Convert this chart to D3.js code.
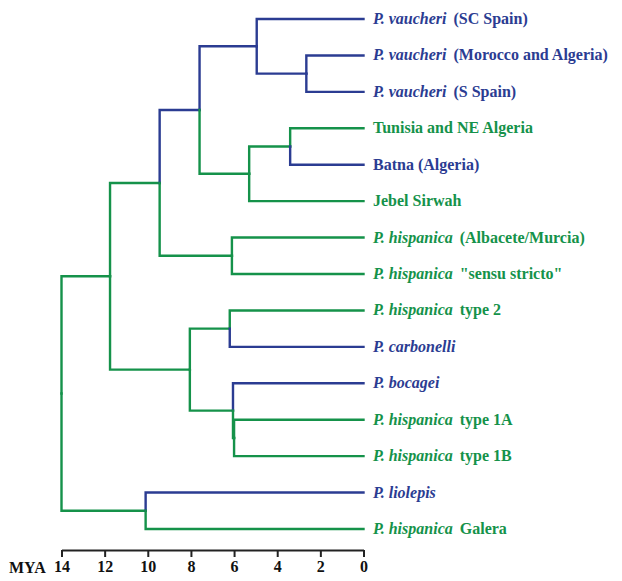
<!DOCTYPE html>
<html lang="en">
<head>
<meta charset="utf-8">
<title>phylogeny</title>
<script src="https://d3js.org/d3.v7.min.js"></script>
<style>
  body { margin: 0; background: #fff; }
  .lab { font-family: "Liberation Serif", "Times New Roman", serif; font-size: 16px; font-weight: bold; }
  .axis text { font-family: "Liberation Serif", "Times New Roman", serif; font-size: 16px; font-weight: bold; fill: #111; }
</style>
</head>
<body>
<div id="chart"></div>
<script>
var width = 622, height = 581;

// leaves, top to bottom
var leafItalic = ["P. vaucheri", "P. vaucheri", "P. vaucheri", "", "", "",
                  "P. hispanica", "P. hispanica", "P. hispanica", "P. carbonelli", "P. bocagei",
                  "P. hispanica", "P. hispanica", "P. liolepis", "P. hispanica"];
var leafRest = [" (SC Spain)", " (Morocco and Algeria)", " (S Spain)", "Tunisia and NE Algeria",
                "Batna (Algeria)", "Jebel Sirwah", " (Albacete/Murcia)", " \"sensu stricto\"",
                " type 2", "", "", " type 1A", " type 1B", "", " Galera"];
var leafGroup = ["b", "b", "b", "g", "b", "g", "g", "g", "g", "b", "b", "g", "g", "b", "g"];

// internal nodes: id, children (leaf index or node id), age (MYA), branch group
var nodeId = ["A", "B", "C", "D", "E", "F", "G", "H", "I", "J", "K", "L", "M", "R"];
var nodeKids = [[1, 2], [0, "A"], [3, 4], ["C", 5], ["B", "D"], [6, 7], ["E", "F"],
                [8, 9], [11, 12], [10, "I"], ["H", "J"], ["G", "K"], [13, 14], ["L", "M"]];
var nodeAge = [2.65, 4.95, 3.4, 5.3, 7.6, 6.1, 9.45, 6.2, 6.0, 6.05, 8.05, 11.75, 10.1, 14];
var nodeGroup = ["b", "b", "g", "g", "b", "g", "g", "g", "g", "g", "g", "g", "g", "g"];

var ticks = [14, 12, 10, 8, 6, 4, 2, 0];

var colors = { b: "#2b3c92", g: "#15924a" };

function build(k) {
  if (typeof k === "number") return { leaf: k, age: 0, group: leafGroup[k] };
  var i = nodeId.indexOf(k);
  return { age: nodeAge[i], group: nodeGroup[i], children: nodeKids[i].map(build) };
}
var root = d3.hierarchy(build("R"));

var x = d3.scaleLinear().domain([14, 0]).range([61.5, 363.5]);
var y = d3.scaleLinear().domain([0, 14]).range([19, 529]);

root.eachAfter(function(d) {
  d.px = x(d.data.age);
  if (d.children) {
    d.py = (d.children[0].py + d.children[d.children.length - 1].py) / 2;
  } else {
    d.py = y(d.data.leaf);
  }
});

var svg = d3.select("#chart").append("svg")
  .attr("width", width).attr("height", height);

svg.append("g").selectAll("path")
  .data(root.descendants().filter(function(d) { return d.parent; }))
  .enter().append("path")
  .attr("d", function(d) {
    return "M" + d.parent.px + "," + d.parent.py + "V" + d.py + "H" + d.px;
  })
  .attr("fill", "none")
  .attr("stroke", function(d) { return colors[d.data.group]; })
  .attr("stroke-width", 2.4)
  .attr("stroke-linecap", "square");

var lab = svg.append("g").selectAll("text")
  .data(root.leaves())
  .enter().append("text")
  .attr("class", "lab")
  .attr("x", 373)
  .attr("y", function(d) { return d.py + 5; })
  .attr("fill", function(d) { return colors[d.data.group]; });
lab.append("tspan")
  .attr("font-style", "italic")
  .text(function(d) { return leafItalic[d.data.leaf]; });
lab.append("tspan")
  .attr("dx", function(d) { return leafItalic[d.data.leaf] ? 3 : 0; })
  .text(function(d) { return leafRest[d.data.leaf]; });

var ax = svg.append("g")
  .attr("class", "axis")
  .attr("transform", "translate(0,550)")
  .call(d3.axisBottom(x).tickValues(ticks).tickSize(7).tickPadding(4).tickSizeOuter(0).tickFormat(d3.format("d")));
ax.select(".domain").attr("stroke", "#222").attr("stroke-width", 2);
ax.selectAll(".tick line").attr("stroke", "#222").attr("stroke-width", 2);

svg.append("text")
  .attr("class", "lab")
  .attr("x", 9)
  .attr("y", 573)
  .attr("fill", "#111")
  .text("MYA");
</script>
</body>
</html>
